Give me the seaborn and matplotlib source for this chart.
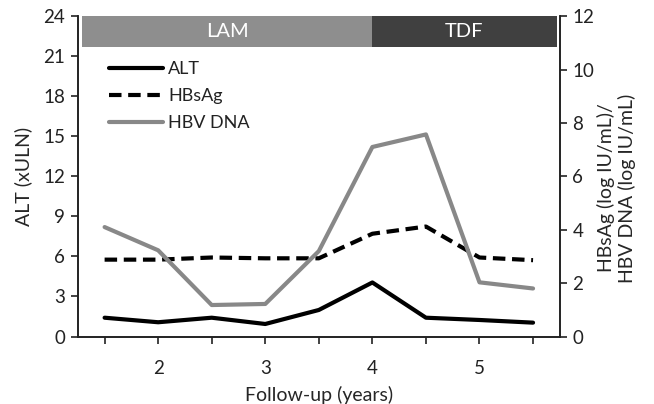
import matplotlib
matplotlib.use("Agg")
import matplotlib.pyplot as plt
import pandas as pd
import seaborn as sns

# Data
years = [1.5, 2.0, 2.5, 3.0, 3.5, 4.0, 4.5, 5.0, 5.5]
alt = [1.41, 1.07, 1.41, 0.94, 1.99, 4.05, 1.41, 1.24, 1.04]
hbsag = [2.88, 2.88, 2.96, 2.93, 2.93, 3.85, 4.12, 2.96, 2.86]
hbv_dna = [4.10, 3.23, 1.18, 1.22, 3.20, 7.10, 7.57, 2.03, 1.80]

phases = ["LAM", "TDF"]
phase_start = [1.29, 4.0]
phase_end = [4.0, 5.72]
phase_colors = ["#8e8e8e", "#404040"]

x_labels = ["", "2", "", "3", "", "4", "", "5", ""]

df = pd.DataFrame({"year": years, "ALT": alt, "HBsAg": hbsag, "HBV DNA": hbv_dna})

# Style
sns.set_theme(style="white")
plt.rcParams["font.family"] = ["Lato", "DejaVu Sans"]
plt.rcParams["text.color"] = "#222222"
FS = 13.5

fig = plt.figure(figsize=(6.54, 4.04), dpi=100)
ax = fig.add_axes([0.119, 0.167, 0.737, 0.793])
ax2 = ax.twinx()

# Treatment bands
for name, s, e, c in zip(phases, phase_start, phase_end, phase_colors):
    ax.barh(22.85, e - s, left=s, height=2.3, color=c, linewidth=0, zorder=1)
    ax.text((s + e) / 2, 22.85, name, color="white", ha="center", va="center", fontsize=14.5)

sns.lineplot(data=df, x="year", y="ALT", ax=ax, color="black", lw=3, label="ALT", legend=False)
sns.lineplot(data=df, x="year", y="HBsAg", ax=ax2, color="black", lw=3,
             linestyle=(0, (3, 1.6)), label="HBsAg", legend=False)
sns.lineplot(data=df, x="year", y="HBV DNA", ax=ax2, color="#888888", lw=3,
             label="HBV DNA", legend=False)

# Axes
ax.set_xlim(1.25, 5.75)
ax.set_ylim(0, 24)
ax2.set_ylim(0, 12)
ax.set_yticks(range(0, 25, 3))
ax2.set_yticks(range(0, 13, 2))
ax.set_xticks(years)
ax.set_xticklabels(x_labels)

ax.set_xlabel("Follow-up (years)", fontsize=14, labelpad=6)
ax.set_ylabel("ALT (xULN)", fontsize=14)
ax2.set_ylabel("HBsAg (log IU/mL)/\nHBV DNA (log IU/mL)", fontsize=14)
ax.yaxis.set_label_coords(-0.095, 0.5)
ax2.yaxis.set_label_coords(1.077, 0.464)

for a in (ax, ax2):
    a.spines["top"].set_visible(False)
    for sp in a.spines.values():
        sp.set_color("#222222")
        sp.set_linewidth(1.2)
    a.tick_params(axis="both", which="both", direction="out", length=5, width=1.2,
                  color="#222222", labelsize=FS, labelcolor="#222222", pad=4)
ax.tick_params(axis="x", pad=12, bottom=True)
ax.tick_params(axis="y", left=True)
ax2.tick_params(axis="y", right=True)

handles = ax.get_lines()[:1] + ax2.get_lines()[:2]
ax.legend(handles, ["ALT", "HBsAg", "HBV DNA"], loc="upper left",
          bbox_to_anchor=(0.03, 0.91), frameon=False, fontsize=13,
          handlelength=3.0, handletextpad=0.3, labelspacing=0.6)

fig.savefig("out.png", dpi=100)
